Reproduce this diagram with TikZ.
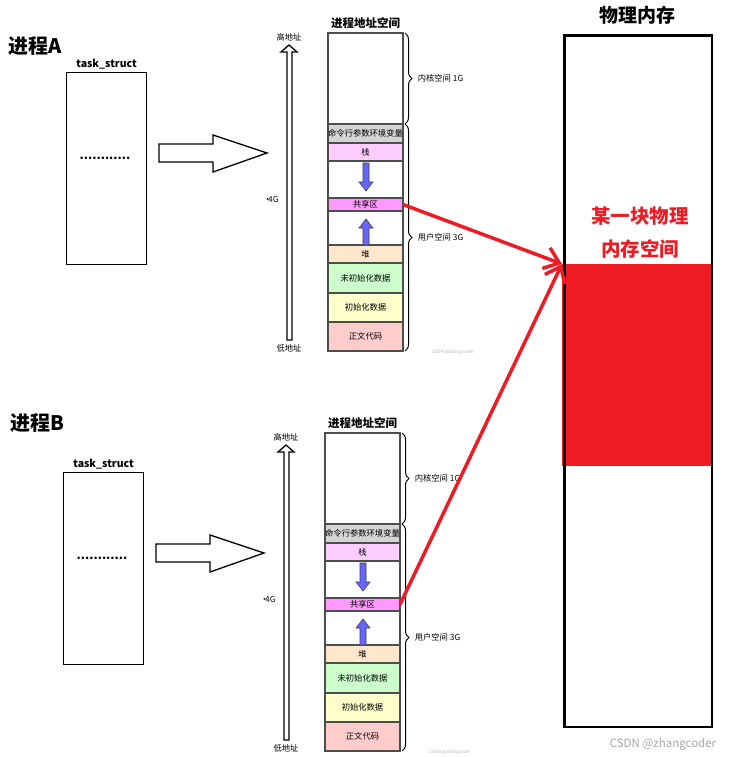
\documentclass[tikz,border=0pt]{standalone}
\usepackage{fontspec}
\setmainfont{Noto Sans CJK SC}
\usepackage{tikz}
\usetikzlibrary{arrows.meta,positioning,decorations.pathreplacing}
\definecolor{memred}{HTML}{ED1C24}
\definecolor{argvgray}{HTML}{D4D4D4}
\definecolor{stackpink}{HTML}{FFCCFF}
\definecolor{sharepink}{HTML}{FF99FF}
\definecolor{heapbg}{HTML}{FFE6CC}
\definecolor{bssgreen}{HTML}{CCFFCC}
\definecolor{datayellow}{HTML}{FFFFCC}
\definecolor{textred}{HTML}{FFCCCC}
\definecolor{growblue}{HTML}{6666FF}
\definecolor{cellline}{HTML}{4D4D4D}

\begin{document}
\begin{tikzpicture}[x=1pt,y=-1pt,
  small/.style={font=\fontsize{8.3}{9}\selectfont},
  cell/.style={draw=cellline, line width=1.2pt, minimum width=75pt, inner sep=0pt, outer sep=0pt, small},
  hollow/.style={draw, line width=1.3pt, fill=white, line join=miter},
  growarrow/.style={draw=black!75, fill=growblue, line width=0.6pt},
  bracemark/.style={decorate, decoration={brace, amplitude=7pt}, line width=1pt},
  mapline/.style={memred, line width=3.5pt, -{Straight Barb[length=14pt,width=22pt]}}]
\useasboundingbox (0,0) rectangle (736,757);

\foreach \p/\dx/\dy in {A/0/0, B/-3/400}{
\begin{scope}[shift={(\dx,\dy)}, name prefix=\p-]
  \node[draw, line width=1.2pt, minimum width=80pt, minimum height=192pt, anchor=north west] (task) at (66,72) {};
  \node[font=\fontsize{12}{13}\selectfont\bfseries] (dots) at (105,158) {............};
  \node[above=-1pt of task, font=\fontsize{10.5}{12}\selectfont\bfseries] (tasklbl) {task\_struct};
  \draw[hollow] (159,144) -- (213,144) -- (213,135) -- (267,153) -- (213,172) -- (213,162) -- (159,162) -- cycle;
  \draw[hollow] (287,340) -- (287,52) -- (281,52) -- (289,45) -- (297,52) -- (292,52) -- (292,340) -- cycle;
  \node[small] (high) at (289,37) {高地址};
  \node[small] (low) at (289,348) {低地址};
  \node[small] (size) at (271,199) {·\kern-3.5pt 4G};
  \foreach \nm/\ya/\yb/\cl/\txt in {kern/33/124/white/{}, argv/124/143/argvgray/命令行参数环境变量,
      stack/143/161/stackpink/栈, gapd/161/198/white/{}, share/198/211/sharepink/共享区,
      gapu/211/245/white/{}, heap/245/263/heapbg/堆, bss/263/293/bssgreen/未初始化数据,
      data/293/322/datayellow/初始化数据, text/322/351/textred/正文代码}
    \node[cell, fill=\cl, minimum height={(\yb-\ya)*1pt}, anchor=north] (\nm) at (365.5,\ya) {\txt};
  \node[above=1pt of kern, font=\fontsize{11.5}{13}\selectfont\bfseries] (spacelbl) {进程地址空间};
  \draw[growarrow] (363,163) -- (369,163) -- (369,182) -- (373,182) -- (366,191) -- (359,182) -- (363,182) -- cycle;
  \draw[growarrow] (363,245) -- (369,245) -- (369,228) -- (373,228) -- (366,219) -- (359,228) -- (363,228) -- cycle;
  \draw[bracemark] ([xshift=2pt]kern.north east) -- ([xshift=2pt]kern.south east)
    node[midway, right=9pt, small] (kernlbl) {内核空间 1G};
  \draw[bracemark] ([xshift=2pt]kern.south east) -- ([xshift=2pt]text.south east)
    node[midway, right=9pt, small] (userlbl) {用户空间 3G};
  \node[text=black!30, font=\fontsize{4.5}{5}\selectfont] (mark) at (453,352) {CSDN @zhangcoder};
\end{scope}
}

\node[anchor=west, font=\fontsize{20}{22}\selectfont\bfseries] (titleA) at (5,46) {进程A};
\node[anchor=west, font=\fontsize{20}{22}\selectfont\bfseries] (titleB) at (7,423) {进程B};

\node[fill=memred, minimum width=150pt, minimum height=202pt, inner sep=0pt, anchor=north west] (blk) at (562,264) {};
\node[draw, line width=2.5pt, minimum width=147.5pt, minimum height=691.5pt, inner sep=0pt, anchor=north west] (mem) at (563.25,34.25) {};
\node[font=\fontsize{19}{21}\selectfont\bfseries] (memlbl) at (637,15) {物理内存};
\node[text=memred, align=center, font=\fontsize{19.5}{33}\selectfont\bfseries] (blklbl) at (640,233) {某一块物理\\内存空间};
\draw[mapline] (A-share.east) -- (blk.north west);
\draw[mapline] (B-share.east) -- (blk.north west);
\node[text=black!35, font=\fontsize{11.5}{12}\selectfont] (csdn) at (663,744) {CSDN @zhangcoder};
\end{tikzpicture}
\end{document}
